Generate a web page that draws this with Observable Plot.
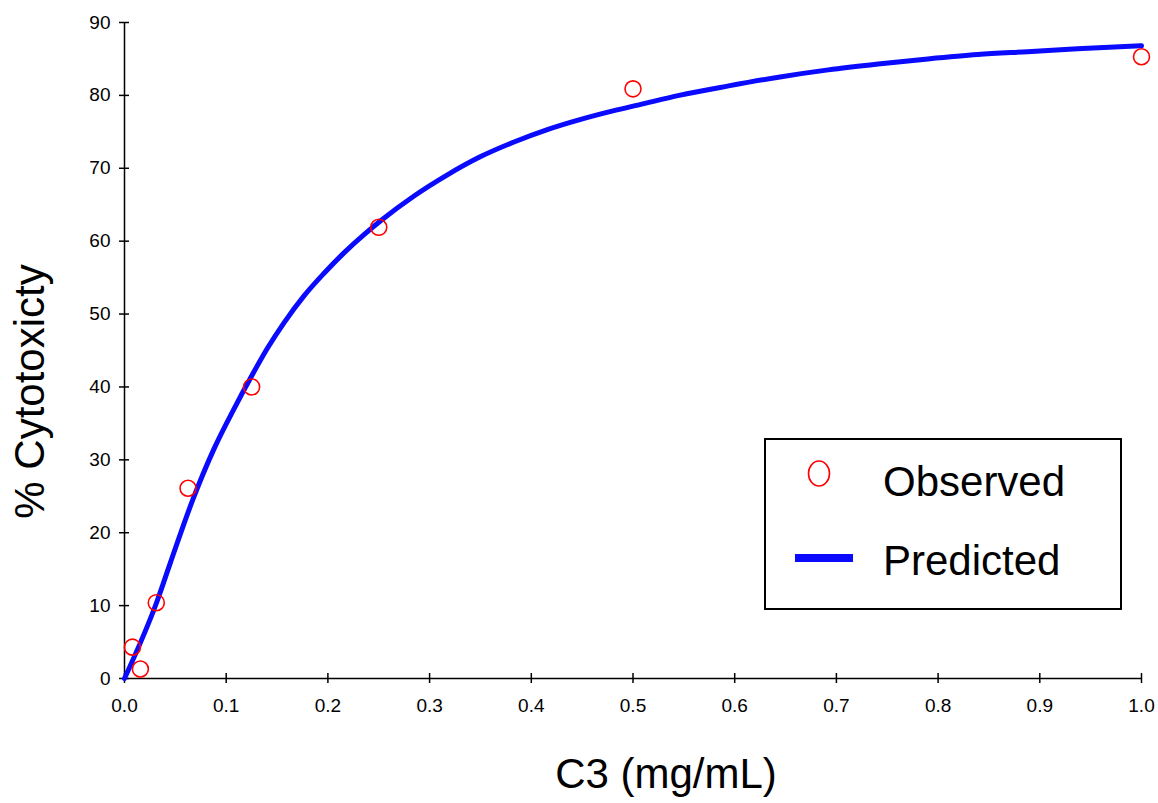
<!DOCTYPE html>
<html>
<head>
<meta charset="utf-8">
<script src="https://cdn.jsdelivr.net/npm/d3@7"></script>
<script src="https://cdn.jsdelivr.net/npm/@observablehq/plot@0.6"></script>
<style>
  html, body { margin: 0; padding: 0; background: #fff; }
  #wrap { position: relative; width: 1158px; height: 803px; font-family: "Liberation Sans", Arial, Helvetica, sans-serif; }
  #legend { position: absolute; left: 764px; top: 438px; width: 354px; height: 168px; border: 2px solid #000; background: #fff; }
  #legend .lab { position: absolute; left: 117px; font-size: 42px; line-height: 1; color: #000; white-space: nowrap; }
  #legend svg { position: absolute; left: 0; top: 0; }
</style>
</head>
<body>
<div id="wrap">
  <div id="chart"></div>
  <div id="legend"></div>
</div>
<script>
// Observed data
const obsX = [0.0078, 0.0156, 0.03125, 0.0625, 0.125, 0.25, 0.5, 1.0];
const obsY = [4.3, 1.3, 10.4, 26.1, 40.0, 61.9, 80.9, 85.3];

// Predicted curve
const fitX = [0, 0.0323, 0.0454, 0.0668, 0.088, 0.1077, 0.1258, 0.1405, 0.1568, 0.1765, 0.1962, 0.2158, 0.2355, 0.2519, 0.2847, 0.3175, 0.3502, 0.383, 0.4158, 0.4486, 0.4813, 0.5059, 0.5454, 0.594, 0.643, 0.692, 0.741, 0.79, 0.839, 0.888, 0.937, 1.0];
const fitY = [0, 10.7, 16.0, 24.4, 31.5, 37.0, 41.7, 45.3, 48.8, 52.5, 55.6, 58.4, 60.9, 62.8, 66.2, 69.1, 71.6, 73.6, 75.3, 76.7, 77.9, 78.7, 80.0, 81.3, 82.5, 83.5, 84.3, 85.0, 85.6, 86.0, 86.4, 86.8];

const xTicks = [0, 0.1, 0.2, 0.3, 0.4, 0.5, 0.6, 0.7, 0.8, 0.9, 1.0];
const yTicks = [0, 10, 20, 30, 40, 50, 60, 70, 80, 90];

const xTitle = "C3 (mg/mL)";
const yTitle = "% Cytotoxicty";
const legendLabels = ["Observed", "Predicted"];

const observed = obsX.map((x, i) => ({x, y: obsY[i]}));
const predicted = fitX.map((x, i) => ({x, y: fitY[i]}));

const plot = Plot.plot({
  width: 1158,
  height: 803,
  marginLeft: 124,
  marginRight: 17,
  marginTop: 22,
  marginBottom: 125,
  style: {fontFamily: '"Liberation Sans", Arial, Helvetica, sans-serif', fontSize: "19px", color: "#000", background: "#fff"},
  x: {domain: [0, 1], axis: null},
  y: {domain: [0, 90], axis: null},
  marks: [
    // tick marks crossing the axes
    Plot.axisX({ticks: xTicks, tickSize: 10, dy: -5, tickFormat: () => "", strokeWidth: 1.5, label: null}),
    Plot.axisY({ticks: yTicks, tickSize: 10, dx: 5, tickFormat: () => "", strokeWidth: 1.5, label: null}),
    // tick labels
    Plot.axisX({ticks: xTicks, tickSize: 0, tickPadding: 20, tickFormat: d3.format(".1f"), label: null}),
    Plot.axisY({ticks: yTicks, tickSize: 0, tickPadding: 14, tickFormat: d3.format("d"), label: null}),
    // axis lines
    Plot.ruleX([0], {stroke: "#000", strokeWidth: 1.5}),
    Plot.ruleY([0], {stroke: "#000", strokeWidth: 1.5}),
    // predicted curve
    Plot.line(predicted, {x: "x", y: "y", stroke: "#0a0aff", strokeWidth: 5, curve: "monotone-x"}),
    // observed points
    Plot.dot(observed, {x: "x", y: "y", r: 8, stroke: "#ff0000", strokeWidth: 1.6, fill: "none"}),
    // axis titles
    Plot.text([xTitle], {frameAnchor: "bottom", textAnchor: "middle", lineAnchor: "middle", dx: 33, dy: 96, fontSize: 42}),
    Plot.text([yTitle], {frameAnchor: "left", textAnchor: "middle", lineAnchor: "middle", rotate: -90, dx: -94, dy: 41, fontSize: 42})
  ]
});
document.getElementById("chart").appendChild(plot);

// legend inside the plot area
const legend = document.getElementById("legend");
legend.innerHTML = `
  <svg width="354" height="168">
    <ellipse cx="53" cy="33.5" rx="10.5" ry="12.5" fill="none" stroke="#ff0000" stroke-width="1.6"></ellipse>
    <line x1="29" x2="87" y1="118" y2="118" stroke="#0a0aff" stroke-width="8"></line>
  </svg>
  <div class="lab" style="top:21px">${legendLabels[0]}</div>
  <div class="lab" style="top:100px">${legendLabels[1]}</div>`;
</script>
</body>
</html>
